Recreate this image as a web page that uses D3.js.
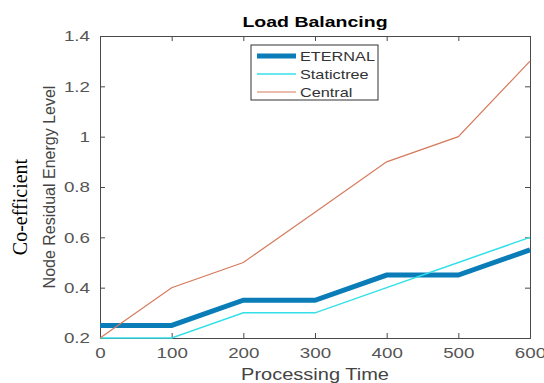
<!DOCTYPE html>
<html lang="en">
<head>
<meta charset="UTF-8">
<script src="https://d3js.org/d3.v7.min.js"></script>
<style>
    body{margin:0;background:#fff;}
    text{font-family:"Liberation Sans",Arial,sans-serif;}
</style>
<title>Load Balancing</title>
</head>
<body>
<div class="canvas"></div>
<script>
    const times = [0,100,200,300,400,500,600];
    const eternal = [0.25,0.25,0.35,0.35,0.45,0.45,0.55];
    const statictree = [0.2,0.2,0.3,0.3,0.4,0.5,0.6];
    const central = [0.2,0.4,0.5,0.7,0.9,1.0,1.3];
    const yTicks = [0.2,0.4,0.6,0.8,1,1.2,1.4];
    const seriesNames = ['ETERNAL','Statictree','Central'];

    const width = 544, height = 383;
    const [mt,mr,mb,ml] = [36,14,45,100];
    const gw = width - ml - mr, gh = height - mt - mb;

    // the picture is a bit wider than tall, so text looks stretched sideways
    const stretch = (sel,f) => sel.each(function(){
        const w = this.getComputedTextLength();
        d3.select(this).attr('textLength',w*f).attr('lengthAdjust','spacingAndGlyphs');
    });

    const svg = d3.select('.canvas').append('svg')
        .attr('width',width).attr('height',height);
    const graph = svg.append('g').attr('transform',`translate(${ml},${mt})`);

    const x = d3.scaleLinear().domain([0,600]).range([0,gw]);
    const y = d3.scaleLinear().domain([0.2,1.4]).range([gh,0]);

    // axes (matlab style: ticks inside, box)
    const axisCol = '#4a4a4a';
    graph.append('g').attr('transform',`translate(0,${gh})`)
        .call(d3.axisBottom(x).tickValues(times).tickSize(-5).tickPadding(9));
    graph.append('g')
        .call(d3.axisLeft(y).tickValues(yTicks).tickSize(-5).tickPadding(10).tickFormat(d3.format('')));
    graph.append('g')
        .call(d3.axisTop(x).tickValues(times).tickSize(-5).tickFormat(''));
    graph.append('g').attr('transform',`translate(${gw},0)`)
        .call(d3.axisRight(y).tickValues(yTicks).tickSize(-5).tickFormat(''));
    graph.selectAll('.domain').attr('stroke',axisCol);
    graph.selectAll('.tick line').attr('stroke',axisCol);
    graph.selectAll('.tick text').attr('fill','#555').style('font-size','15px')
        .style('font-family','"Liberation Sans",Arial,sans-serif');
    stretch(graph.selectAll('.tick text'),1.25);

    const line = d3.line().x((d,i)=>x(times[i])).y(d=>y(d));
    const styles = [
        {data:eternal, color:'#0a7db8', w:5},
        {data:statictree, color:'#33e0e8', w:1.5},
        {data:central, color:'#d67a5c', w:1.2}
    ];
    styles.forEach(s=>{
        graph.append('path').attr('d',line(s.data))
            .attr('fill','none').attr('stroke',s.color).attr('stroke-width',s.w);
    });

    // legend
    const lg = svg.append('g').attr('transform','translate(251,45)');
    lg.append('rect').attr('width',127).attr('height',55)
        .attr('fill','#fff').attr('stroke','#333').attr('stroke-width',1);
    seriesNames.forEach((n,i)=>{
        const yy = 11 + i*18;
        lg.append('line').attr('x1',6).attr('x2',45).attr('y1',yy).attr('y2',yy)
            .attr('stroke',styles[i].color).attr('stroke-width',styles[i].w);
        lg.append('text').attr('x',49).attr('y',yy+5).text(n)
            .style('font-size','13px').attr('fill','#333');
    });
    stretch(lg.selectAll('text'),1.25);

    // titles
    const title = svg.append('text').attr('x',ml+gw/2).attr('y',27).attr('text-anchor','middle')
        .style('font-weight','bold').style('font-size','15px').text('Load Balancing');
    const xl = svg.append('text').attr('x',ml+gw/2).attr('y',380).attr('text-anchor','middle')
        .style('font-size','16px').attr('fill','#444').text('Processing Time');
    stretch(title,1.3);
    stretch(xl,1.25);
    svg.append('text').attr('transform','translate(55,187) rotate(-90)').attr('text-anchor','middle')
        .style('font-size','16px').attr('fill','#444').text('Node Residual Energy Level');
    svg.append('text').attr('transform','translate(27,207) rotate(-90)').attr('text-anchor','middle')
        .style('font-size','20px').style('font-family','"Liberation Serif","Times New Roman",serif')
        .text('Co-efficient');
</script>
</body>
</html>
